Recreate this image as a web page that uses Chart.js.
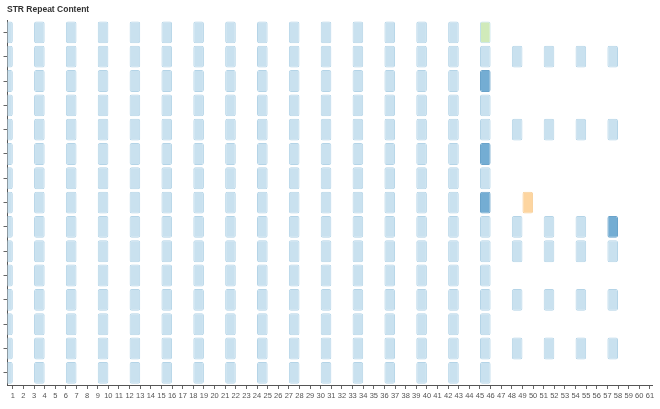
<!DOCTYPE html>
<html><head><meta charset="utf-8">
<script src="https://cdn.jsdelivr.net/npm/chart.js@4/dist/chart.umd.min.js"></script>
<style>html,body{margin:0;padding:0;background:#fff}#wrap{width:660px;height:409px}</style>
</head><body><div id="wrap"><canvas id="c" width="660" height="409"></canvas></div>
<script>
const chartTitle = 'STR Repeat Content';
const xTickLabels = [1,2,3,4,5,6,7,8,9,10,11,12,13,14,15,16,17,18,19,20,21,22,23,24,25,26,27,28,29,30,31,32,33,34,35,36,37,38,39,40,41,42,43,44,45,46,47,48,49,50,51,52,53,54,55,56,57,58,59,60,61];
const rowIds = [1,2,3,4,5,6,7,8,9,10,11,12,13,14,15];
const fullColumns = [0,3,6,9,12,15,18,21,24,27,30,33,36,39,42,45];
const partialColumns = [48,51,54,57];
const partialRows = [2,5,9,10,12,14];
const darkCells = [[45,3],[45,6],[45,8],[57,9]];
const greenCells = [[45,1]];
const orangeCells = [[49,8]];

const LIGHT = {bg:'#c9e1ef', bd:'#b4d4e7'};
const DARK = {bg:'#74add3', bd:'#6aa3ca'};
const GREEN = {bg:'#d0eaba', bd:'#c0e0ea'};
const ORANGE = {bg:'#fdd5a0', bd:'#f7cf9a'};

function cellStyle(c, r) {
  if (darkCells.some(p => p[0] === c && p[1] === r)) return DARK;
  if (greenCells.some(p => p[0] === c && p[1] === r)) return GREEN;
  if (orangeCells.some(p => p[0] === c && p[1] === r)) return ORANGE;
  return LIGHT;
}
function makeDataset(c, rows) {
  return {
    data: rowIds.map(r => rows.includes(r) ? [c, c + 1] : null),
    backgroundColor: rowIds.map(r => cellStyle(c, r).bg),
    borderColor: rowIds.map(r => cellStyle(c, r).bd)
  };
}
const datasets = [];
fullColumns.forEach(c => datasets.push(makeDataset(c, rowIds)));
partialColumns.forEach(c => datasets.push(makeDataset(c, partialRows)));
const orangeCols = [...new Set(orangeCells.map(p => p[0]))];
orangeCols.forEach(c => datasets.push(makeDataset(c, orangeCells.filter(p => p[0] === c).map(p => p[1]))));

Chart.defaults.font.family = "'Liberation Sans', Arial, sans-serif";

new Chart(document.getElementById('c'), {
  type: 'bar',
  data: { labels: rowIds, datasets },
  options: {
    responsive: false,
    animation: false,
    devicePixelRatio: 1,
    indexAxis: 'y',
    layout: { padding: { left: 7, right: 8, top: 0, bottom: 0 } },
    datasets: { bar: { grouped: false, barPercentage: 0.9, categoryPercentage: 1.0, borderWidth: 1, borderRadius: 2, borderSkipped: false } },
    plugins: {
      legend: { display: false },
      tooltip: { enabled: false },
      title: { display: true, text: chartTitle, align: 'start', color: '#333', font: { size: 8.5, weight: 'bold' }, padding: { top: 5, bottom: 5 } }
    },
    scales: {
      x: {
        type: 'linear', position: 'bottom', min: 0.5, max: 61.2,
        afterBuildTicks: s => { s.ticks = xTickLabels.map(v => ({ value: v })); },
        afterFit: s => { s.height = 24; },
        ticks: { autoSkip: false, maxRotation: 0, minRotation: 0, color: '#555', font: { size: 7.5 }, padding: 2 },
        grid: { drawOnChartArea: false, drawTicks: true, tickLength: 4, color: '#666' },
        border: { color: '#555', width: 1 }
      },
      y: {
        type: 'category', offset: true,
        afterFit: s => { s.width = 0.5; },
        ticks: { callback: () => '', padding: 0 },
        grid: { offset: false, drawOnChartArea: false, drawTicks: true, tickLength: 4, color: '#666' },
        border: { color: '#555', width: 1 }
      }
    }
  }
});
</script></body></html>
